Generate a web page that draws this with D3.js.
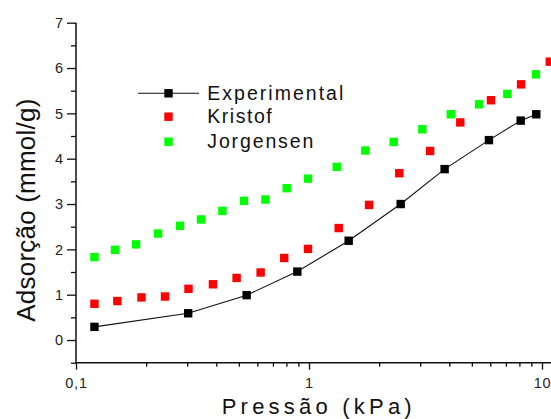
<!DOCTYPE html>
<html>
<head>
<meta charset="utf-8">
<script src="https://cdn.jsdelivr.net/npm/d3@7"></script>
<style>
  html, body { margin: 0; padding: 0; background: #fff; }
  svg { display: block; font-family: "Liberation Sans", Arial, sans-serif; }
</style>
</head>
<body>
<svg id="chart" width="551" height="419"></svg>
<script>
// ---- data ----
const seriesNames = ["Experimental", "Kristof", "Jorgensen"];
const seriesColors = ["#000000", "#ff0000", "#00ff00"];

const expX = [0.12, 0.303, 0.54, 0.891, 1.48, 2.475, 3.82, 5.92, 8.10, 9.45];
const expY = [0.29, 0.59, 0.99, 1.51, 2.19, 3.00, 3.77, 4.41, 4.84, 4.98];

const kriX = [0.12, 0.1505, 0.191, 0.241, 0.304, 0.387, 0.489, 0.620, 0.783, 0.99, 1.341, 1.81, 2.44, 3.31, 4.46, 6.04, 8.13, 10.8];
const kriY = [0.80, 0.86, 0.94, 0.96, 1.13, 1.23, 1.37, 1.49, 1.81, 2.01, 2.47, 2.98, 3.68, 4.17, 4.80, 5.29, 5.64, 6.14];

const jorX = [0.12, 0.147, 0.181, 0.225, 0.2795, 0.344, 0.425, 0.526, 0.650, 0.802, 0.99, 1.315, 1.745, 2.31, 3.065, 4.06, 5.37, 7.10, 9.42];
const jorY = [1.83, 1.99, 2.11, 2.35, 2.52, 2.66, 2.85, 3.07, 3.10, 3.35, 3.56, 3.82, 4.18, 4.37, 4.65, 4.98, 5.20, 5.43, 5.86];

const xMajorTicks = [0.1, 1, 10];
const xTickLabels = ["0,1", "1", "10"];
const xMinorTicks = [0.2,0.3,0.4,0.5,0.6,0.7,0.8,0.9,2,3,4,5,6,7,8,9];
const yMajorTicks = [0, 1, 2, 3, 4, 5, 6, 7];
const yMinorTicks = [-0.5, 0.5, 1.5, 2.5, 3.5, 4.5, 5.5, 6.5];
const xDomain = [0.1, 11];
const yDomain = [-0.5, 7];

const xTitle = "Pressão (kPa)";
const yTitle = "Adsorção (mmol/g)";

// ---- layout ----
const svg = d3.select("#chart");
const plotLeft = 76, plotTop = 22.7, plotBottom = 362.7;
const decade = 233;
const x = d3.scaleLog().domain(xDomain)
  .range([plotLeft, plotLeft + decade * Math.log10(xDomain[1] / xDomain[0])]);
const y = d3.scaleLinear().domain(yDomain).range([plotBottom, plotTop]);

const axisColor = "#111";

// y axis
const gy = svg.append("g").attr("transform", `translate(${plotLeft},0)`);
gy.append("g").call(d3.axisLeft(y).tickValues(yMinorTicks).tickSize(5).tickFormat(""));
gy.append("g").call(d3.axisLeft(y).tickValues(yMajorTicks).tickSize(9).tickPadding(4)
  .tickFormat(d3.format("d")));
gy.selectAll("path.domain").remove();
gy.selectAll("line").attr("stroke", axisColor).attr("stroke-width", 1.3);
gy.selectAll("text").attr("font-size", 14.5).attr("fill", "#222")
  .attr("font-family", "'Liberation Sans', Arial, sans-serif");

// x axis
const gx = svg.append("g").attr("transform", `translate(0,${plotBottom})`);
gx.append("g").call(d3.axisBottom(x).tickValues(xMinorTicks).tickSize(4).tickFormat(""));
gx.append("g").call(d3.axisBottom(x).tickValues(xMajorTicks).tickSize(7).tickPadding(8)
  .tickFormat((d, i) => xTickLabels[i]));
gx.selectAll("path.domain").remove();
gx.selectAll("line").attr("stroke", axisColor).attr("stroke-width", 1.3);
gx.selectAll("text").attr("font-size", 14.5).attr("fill", "#222")
  .attr("letter-spacing", 0.8)
  .attr("font-family", "'Liberation Sans', Arial, sans-serif");

// axis lines
svg.append("line").attr("x1", plotLeft).attr("x2", plotLeft)
  .attr("y1", y(yDomain[1])).attr("y2", y(yDomain[0]) + 0.6)
  .attr("stroke", axisColor).attr("stroke-width", 1.5);
svg.append("line").attr("x1", plotLeft - 0.6).attr("x2", x(xDomain[1]))
  .attr("y1", plotBottom).attr("y2", plotBottom)
  .attr("stroke", axisColor).attr("stroke-width", 1.5);

// titles
svg.append("text").attr("x", 221.7).attr("y", 414.3)
  .attr("font-size", 22).attr("fill", "#111")
  .attr("textLength", 190).attr("lengthAdjust", "spacing")
  .text(xTitle);
svg.append("text")
  .attr("transform", "translate(35,321.7) rotate(-90)")
  .attr("font-size", 26).attr("fill", "#111")
  .attr("textLength", 223).attr("lengthAdjust", "spacing")
  .text(yTitle);

// series
const msize = 8.4;
function squares(xs, ys, color) {
  const pts = xs.map((v, i) => [v, ys[i]]);
  svg.append("g").selectAll("rect").data(pts).join("rect")
    .attr("x", d => x(d[0]) - msize / 2)
    .attr("y", d => y(d[1]) - msize / 2)
    .attr("width", msize).attr("height", msize)
    .attr("fill", color);
}
const expPts = expX.map((v, i) => [v, expY[i]]);
svg.append("path").datum(expPts)
  .attr("d", d3.line().x(d => x(d[0])).y(d => y(d[1])))
  .attr("fill", "none").attr("stroke", "#111").attr("stroke-width", 1.1);
squares(kriX, kriY, seriesColors[1]);
squares(jorX, jorY, seriesColors[2]);
squares(expX, expY, seriesColors[0]);

// legend
const legRows = [93.3, 116.7, 141.7];
const legTextWidths = [136, 64.4, 106];
const legSym = 168.5;
svg.append("line").attr("x1", 138).attr("x2", 199)
  .attr("y1", legRows[0]).attr("y2", legRows[0])
  .attr("stroke", "#111").attr("stroke-width", 1.1);
seriesNames.forEach((name, i) => {
  svg.append("rect")
    .attr("x", legSym - msize / 2).attr("y", legRows[i] - msize / 2)
    .attr("width", msize).attr("height", msize)
    .attr("fill", seriesColors[i]);
  svg.append("text")
    .attr("x", 207.3).attr("y", legRows[i] + 6.2)
    .attr("font-size", 19.5).attr("fill", "#111")
    .attr("textLength", legTextWidths[i]).attr("lengthAdjust", "spacing")
    .text(name);
});
</script>
</body>
</html>
